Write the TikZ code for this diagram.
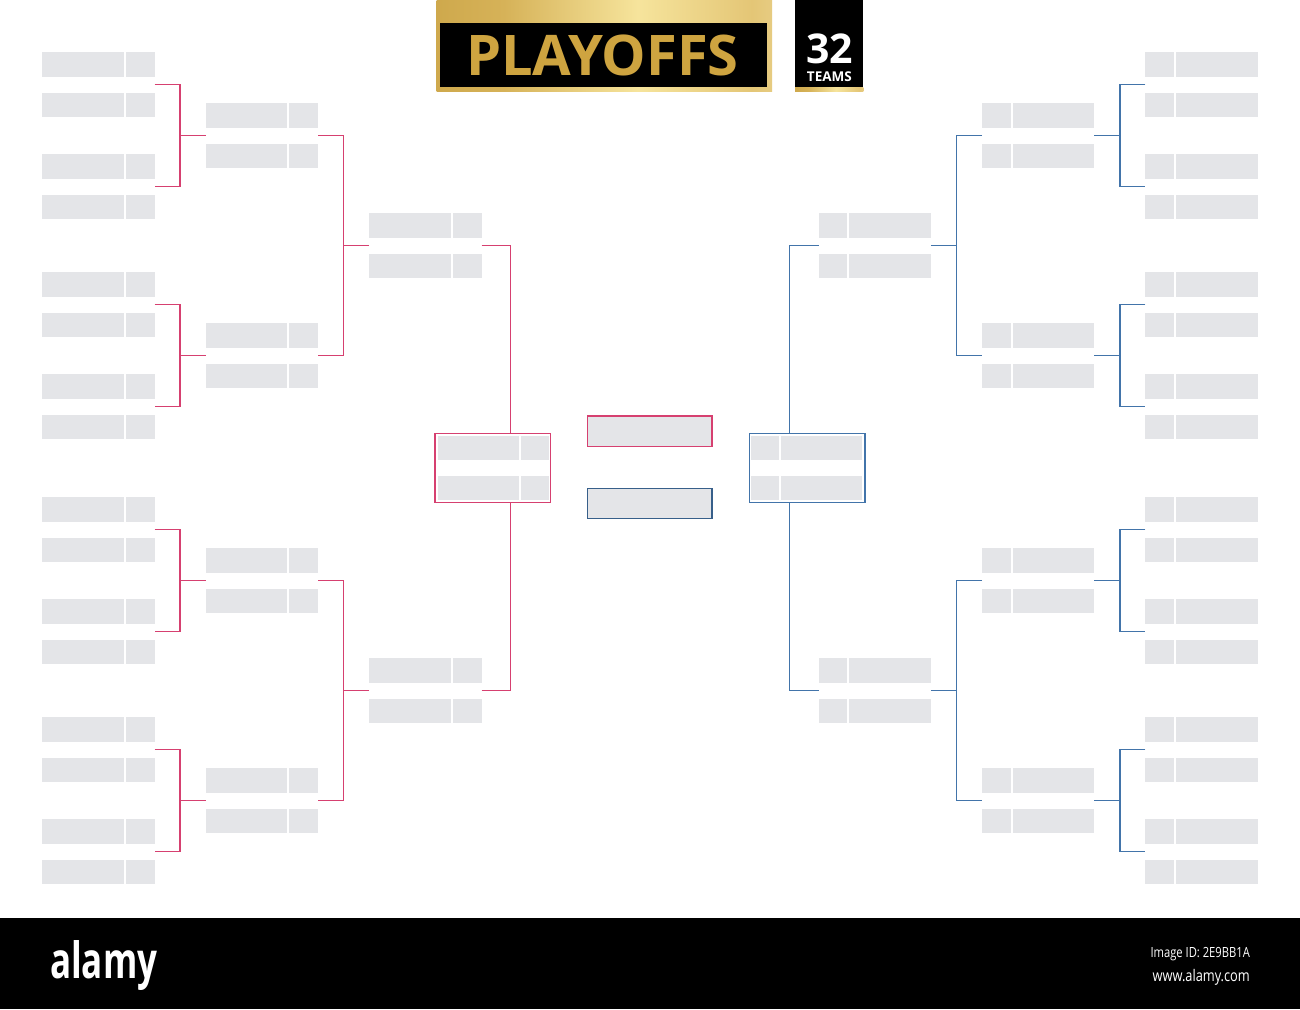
\documentclass[tikz,border=0pt]{standalone}
\usepackage{fontspec}
\setmainfont{Open Sans}
\usetikzlibrary{calc}
\definecolor{boxgray}{RGB}{228,229,232}
\definecolor{pinkline}{RGB}{214,64,112}
\definecolor{blueline}{RGB}{66,116,170}
\definecolor{bluedark}{RGB}{55,95,138}
\definecolor{goldtext}{RGB}{206,164,64}
\definecolor{gA}{RGB}{188,146,48}
\definecolor{gB}{RGB}{214,178,88}
\definecolor{gC}{RGB}{246,228,156}
\definecolor{gD}{RGB}{228,198,118}
\definecolor{gE}{RGB}{250,246,220}
\pgfdeclarehorizontalshading{goldshade}{100bp}{color(0bp)=(gA); color(35bp)=(gB); color(55bp)=(gC); color(72bp)=(gD); color(100bp)=(gE)}
\tikzset{
  slotbase/.style={fill=boxgray, draw=none, inner sep=0pt, outer sep=0pt, anchor=north west, minimum height=24.4pt},
  lslot/.style={slotbase, minimum width=112.3pt,
    path picture={\draw[white, line width=2pt] ([xshift=82.7pt]path picture bounding box.north west) -- ([xshift=82.7pt]path picture bounding box.south west);}},
  rslot/.style={slotbase, minimum width=112.3pt,
    path picture={\draw[white, line width=2pt] ([xshift=29.5pt]path picture bounding box.north west) -- ([xshift=29.5pt]path picture bounding box.south west);}},
  lsemislot/.style={slotbase, minimum width=110.7pt,
    path picture={\draw[white, line width=2pt] ([xshift=81.6pt]path picture bounding box.north west) -- ([xshift=81.6pt]path picture bounding box.south west);}},
  rsemislot/.style={slotbase, minimum width=110.7pt,
    path picture={\draw[white, line width=2pt] ([xshift=29.1pt]path picture bounding box.north west) -- ([xshift=29.1pt]path picture bounding box.south west);}},
  semiframe/.style={fill=white, line width=1.2pt, inner sep=0pt, outer sep=0pt, anchor=north west, minimum width=115.7pt, minimum height=69pt},
  finalbox/.style={fill=boxgray, line width=1.3pt, inner sep=0pt, outer sep=0pt, anchor=north west, minimum width=124.7pt},
  pinkcon/.style={draw=pinkline, line width=1.2pt},
  bluecon/.style={draw=blueline, line width=1.2pt},
}
% bracket on the left half: #1 style, #2-#3 upper match, #4-#5 lower match, #6-#7 target match, #8 x of vertical
\newcommand\mybrkL[8]{%
  \coordinate (tmpA) at ($(#2.south east)!.5!(#3.north east)$);
  \coordinate (tmpB) at ($(#4.south east)!.5!(#5.north east)$);
  \coordinate (tmpC) at ($(#6.south west)!.5!(#7.north west)$);
  \coordinate (tmpV) at (#8,0);
  \draw[#1] (tmpA) -- (tmpA -| tmpV) -- (tmpB -| tmpV) -- (tmpB);
  \draw[#1] (tmpC) -- (tmpC -| tmpV);
}
\newcommand\mybrkR[8]{%
  \coordinate (tmpA) at ($(#2.south west)!.5!(#3.north west)$);
  \coordinate (tmpB) at ($(#4.south west)!.5!(#5.north west)$);
  \coordinate (tmpC) at ($(#6.south east)!.5!(#7.north east)$);
  \coordinate (tmpV) at (#8,0);
  \draw[#1] (tmpA) -- (tmpA -| tmpV) -- (tmpB -| tmpV) -- (tmpB);
  \draw[#1] (tmpC) -- (tmpC -| tmpV);
}
\begin{document}
\begin{tikzpicture}[x=1pt,y=-1pt]
\useasboundingbox (0,0) rectangle (1300,1009);
\fill[white] (0,0) rectangle (1300,1009);

% ---------- round 1 ----------
\foreach \p [count=\i] in {52.3,154.3,272.3,374.3,497.3,599.3,717.3,819.3} {
  \pgfmathtruncatemacro\ia{2*\i-1}
  \pgfmathtruncatemacro\ib{2*\i}
  \pgfmathsetmacro\q{\p+40.7}
  \node[lslot] (L1-\ia) at (42.3,\p) {};
  \node[lslot] (L1-\ib) at (42.3,\q) {};
  \node[rslot] (R1-\ia) at (1145.4,\p) {};
  \node[rslot] (R1-\ib) at (1145.4,\q) {};
}
% ---------- round 2 ----------
\foreach \p [count=\i] in {103.3,323.3,548.3,768.3} {
  \pgfmathtruncatemacro\ia{2*\i-1}
  \pgfmathtruncatemacro\ib{2*\i}
  \pgfmathsetmacro\q{\p+40.7}
  \node[lslot] (L2-\ia) at (205.7,\p) {};
  \node[lslot] (L2-\ib) at (205.7,\q) {};
  \node[rslot] (R2-\ia) at (982,\p) {};
  \node[rslot] (R2-\ib) at (982,\q) {};
}
% ---------- round 3 ----------
\foreach \p [count=\i] in {213.3,658.3} {
  \pgfmathtruncatemacro\ia{2*\i-1}
  \pgfmathtruncatemacro\ib{2*\i}
  \pgfmathsetmacro\q{\p+40.7}
  \node[lslot] (L3-\ia) at (369.2,\p) {};
  \node[lslot] (L3-\ib) at (369.2,\q) {};
  \node[rslot] (R3-\ia) at (818.5,\p) {};
  \node[rslot] (R3-\ib) at (818.5,\q) {};
}

% ---------- connectors round 1 -> 2 ----------
\foreach \g in {1,...,4} {
  \pgfmathtruncatemacro\sa{4*\g-3}
  \pgfmathtruncatemacro\sb{4*\g-2}
  \pgfmathtruncatemacro\sc{4*\g-1}
  \pgfmathtruncatemacro\sd{4*\g}
  \pgfmathtruncatemacro\ta{2*\g-1}
  \pgfmathtruncatemacro\tb{2*\g}
  \mybrkL{pinkcon}{L1-\sa}{L1-\sb}{L1-\sc}{L1-\sd}{L2-\ta}{L2-\tb}{180}
  \mybrkR{bluecon}{R1-\sa}{R1-\sb}{R1-\sc}{R1-\sd}{R2-\ta}{R2-\tb}{1120}
}
% ---------- connectors round 2 -> 3 ----------
\foreach \g in {1,2} {
  \pgfmathtruncatemacro\sa{4*\g-3}
  \pgfmathtruncatemacro\sb{4*\g-2}
  \pgfmathtruncatemacro\sc{4*\g-1}
  \pgfmathtruncatemacro\sd{4*\g}
  \pgfmathtruncatemacro\ta{2*\g-1}
  \pgfmathtruncatemacro\tb{2*\g}
  \mybrkL{pinkcon}{L2-\sa}{L2-\sb}{L2-\sc}{L2-\sd}{L3-\ta}{L3-\tb}{343.3}
  \mybrkR{bluecon}{R2-\sa}{R2-\sb}{R2-\sc}{R2-\sd}{R3-\ta}{R3-\tb}{956.7}
}

% ---------- semifinals ----------
\node[semiframe, draw=pinkline] (LSF) at (435,433.3) {};
\node[lsemislot] (LS-1) at (438.3,436) {};
\node[lsemislot] (LS-2) at (438.3,476) {};
\node[semiframe, draw=blueline] (RSF) at (749.3,433.3) {};
\node[rsemislot] (RS-1) at (751,436) {};
\node[rsemislot] (RS-2) at (751,476) {};

% round 3 -> semifinal
\coordinate (LV) at (510.7,0);
\coordinate (LA) at ($(L3-1.south east)!.5!(L3-2.north east)$);
\coordinate (LB) at ($(L3-3.south east)!.5!(L3-4.north east)$);
\draw[pinkcon] (LA) -- (LA -| LV) -- (LV |- LSF.north);
\draw[pinkcon] (LB) -- (LB -| LV) -- (LV |- LSF.south);
\coordinate (RV) at (789.3,0);
\coordinate (RA) at ($(R3-1.south west)!.5!(R3-2.north west)$);
\coordinate (RB) at ($(R3-3.south west)!.5!(R3-4.north west)$);
\draw[bluecon] (RA) -- (RA -| RV) -- (RV |- RSF.north);
\draw[bluecon] (RB) -- (RB -| RV) -- (RV |- RSF.south);

% ---------- final ----------
\node[finalbox, draw=pinkline, minimum height=30.7pt] (FT) at (587.3,416) {};
\node[finalbox, draw=bluedark, minimum height=30pt] (FB) at (587.3,488.3) {};

% ---------- title ----------
\shade[shading=goldshade] (436.7,0) rectangle (772,91.7);
\fill[black] (440,22.7) rectangle (767.3,87.3);
\node[anchor=base, text=goldtext, font=\bfseries\fontsize{56}{60}\selectfont, inner sep=0pt] (title) at (602.4,75) {PLAYOFFS};
\fill[black] (795,0) rectangle (863.3,87.3);
\shade[shading=goldshade] (795,87.3) rectangle (863.3,91.7);
\node[anchor=base, text=white, font=\bfseries\fontsize{41}{44}\selectfont, inner sep=0pt] (num) at (829.9,63.3) {32};
\node[anchor=base, text=white, font=\bfseries\fontsize{13.5}{15}\selectfont, inner sep=0pt] (teams) at (829.4,81.7) {TEAMS};

% ---------- bottom bar ----------
\fill[black] (0,918.3) rectangle (1300,1009);
\node[anchor=base west, text=white, font=\bfseries\fontsize{50}{52}\selectfont, xscale=0.7, inner sep=0pt] (alamy) at (50,978) {alamy};
\node[anchor=base east, text=white, font=\fontsize{14}{16}\selectfont, xscale=0.8, inner sep=0pt] (imgid) at (1250,957) {Image ID: 2E9BB1A};
\node[anchor=base east, text=white, font=\fontsize{16}{18}\selectfont, xscale=0.8, inner sep=0pt] (www) at (1250,981) {www.alamy.com};
\end{tikzpicture}
\end{document}
